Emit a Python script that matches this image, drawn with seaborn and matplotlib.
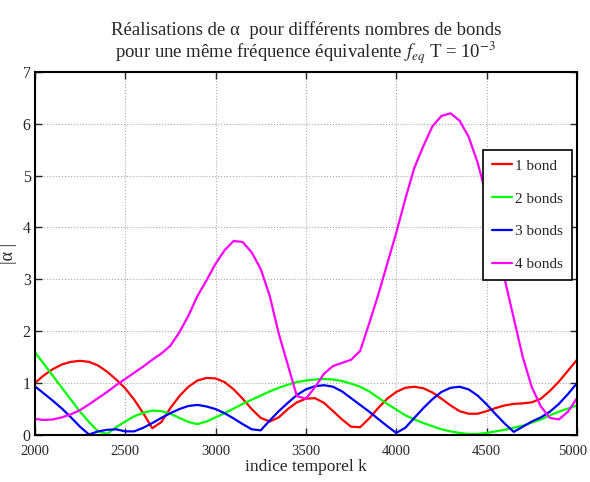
import numpy as np
import pandas as pd
import matplotlib
matplotlib.use('Agg')
import matplotlib.pyplot as plt
import matplotlib.transforms as mtransforms
import seaborn as sns

# indice temporel k (pas de 50)
k = np.arange(2000, 5001, 50)

# |alpha_k|
bond1 = [1.00, 1.15, 1.27, 1.36, 1.41, 1.43, 1.41, 1.34, 1.22, 1.07,
         0.90, 0.68, 0.42, 0.13, 0.25, 0.52, 0.75, 0.93, 1.05, 1.10,
         1.09, 1.02, 0.88, 0.70, 0.50, 0.33, 0.26, 0.34, 0.50, 0.63,
         0.70, 0.71, 0.62, 0.46, 0.30, 0.16, 0.15, 0.32, 0.52, 0.70,
         0.83, 0.91, 0.93, 0.90, 0.82, 0.70, 0.57, 0.46, 0.41, 0.41,
         0.46, 0.52, 0.57, 0.60, 0.61, 0.63, 0.70, 0.85, 1.03, 1.24, 1.45]
bond2 = [1.60, 1.37, 1.14, 0.91, 0.68, 0.45, 0.25, 0.07, 0.02, 0.15,
         0.26, 0.36, 0.43, 0.47, 0.46, 0.41, 0.33, 0.25, 0.21, 0.26,
         0.34, 0.42, 0.51, 0.60, 0.68, 0.76, 0.84, 0.91, 0.97, 1.02,
         1.05, 1.07, 1.08, 1.07, 1.04, 0.99, 0.93, 0.84, 0.72, 0.60,
         0.49, 0.38, 0.30, 0.23, 0.17, 0.11, 0.07, 0.04, 0.02, 0.02,
         0.04, 0.07, 0.10, 0.14, 0.18, 0.24, 0.30, 0.38, 0.45, 0.51, 0.57]
bond3 = [0.94, 0.80, 0.66, 0.51, 0.34, 0.16, 0.01, 0.07, 0.10, 0.11,
         0.07, 0.07, 0.14, 0.23, 0.33, 0.42, 0.50, 0.56, 0.58, 0.55,
         0.50, 0.42, 0.32, 0.21, 0.11, 0.09, 0.28, 0.46, 0.62, 0.77,
         0.88, 0.94, 0.96, 0.93, 0.84, 0.71, 0.58, 0.45, 0.31, 0.17,
         0.04, 0.14, 0.33, 0.52, 0.69, 0.83, 0.91, 0.93, 0.88, 0.76,
         0.59, 0.40, 0.22, 0.06, 0.16, 0.26, 0.34, 0.45, 0.60, 0.79, 1.00]
bond4 = [0.31, 0.29, 0.30, 0.34, 0.40, 0.48, 0.59, 0.71, 0.83, 0.96,
         1.08, 1.20, 1.32, 1.45, 1.57, 1.72, 1.98, 2.30, 2.68, 2.98,
         3.30, 3.56, 3.74, 3.72, 3.52, 3.20, 2.68, 1.95, 1.35, 0.75,
         0.70, 0.92, 1.18, 1.33, 1.39, 1.45, 1.62, 2.15, 2.70, 3.30,
         3.90, 4.55, 5.15, 5.57, 5.95, 6.15, 6.20, 6.06, 5.75, 5.25,
         4.60, 3.80, 3.00, 2.25, 1.50, 0.92, 0.55, 0.33, 0.30, 0.45, 0.71]

labels = ['1 bond', '2 bonds', '3 bonds', '4 bonds']
couleurs = ['#ff0000', '#00ff00', '#0000ff', '#ff00ff']

df = pd.DataFrame({'k': k, labels[0]: bond1, labels[1]: bond2,
                   labels[2]: bond3, labels[3]: bond4})
df_long = df.melt(id_vars='k', var_name='serie', value_name='alpha')

sns.set_style('ticks')
plt.rcParams['font.family'] = ['Liberation Serif', 'DejaVu Serif']
plt.rcParams['mathtext.fontset'] = 'stix'

fig = plt.figure(figsize=(5.9, 4.82), dpi=100)
ax = fig.add_axes([0.059, 0.0975, 0.919, 0.7535])

sns.lineplot(data=df_long, x='k', y='alpha', hue='serie',
             palette=couleurs, hue_order=labels, linewidth=1.6, ax=ax)

ax.set_xlim(2000, 5000)
ax.set_ylim(0, 7)
ax.set_xticks(np.arange(2000, 5001, 500))
ax.set_yticks(np.arange(0, 8, 1))
ax.grid(True, linestyle=':', color='#aaaaaa', linewidth=0.8)
ax.tick_params(direction='in', length=5, top=True, right=True, width=1)
ax.tick_params(axis='x', labelsize=10.5, pad=7)
ax.tick_params(axis='y', labelsize=11.5, pad=3)
for s in ax.spines.values():
    s.set_linewidth(1.5)
    s.set_color('black')

# le dernier label (5000) touche le bord : petit decalage vers la gauche
fig.canvas.draw()
dernier = ax.get_xticklabels()[-1]
dernier.set_transform(dernier.get_transform() +
                      mtransforms.ScaledTranslation(-4 / 100, 0, fig.dpi_scale_trans))

ax.set_xlabel('indice temporel k', fontsize=12.5, labelpad=1)
ax.set_ylabel('|α |', fontsize=13, labelpad=4)
ax.set_title('Réalisations de α  pour différents nombres de bonds\n'
             'pour une même fréquence équivalente $f_{eq}$ T = 10$^{-3}$',
             fontsize=13.5, pad=10, linespacing=1.0)

leg = ax.legend(loc='upper right', bbox_to_anchor=(0.99, 0.785),
                fontsize=11, frameon=True, fancybox=False,
                edgecolor='black', framealpha=1, labelspacing=1.25,
                handlelength=1.3, handletextpad=0.15, borderpad=0.6,
                borderaxespad=0)
leg.get_frame().set_linewidth(1.2)

fig.savefig('out.png', dpi=100)
